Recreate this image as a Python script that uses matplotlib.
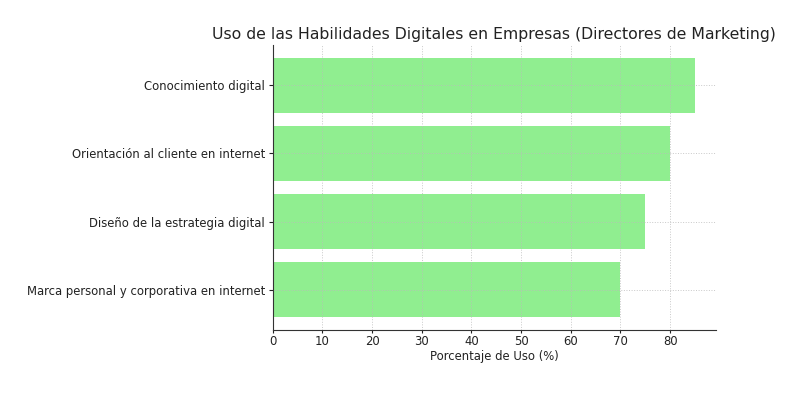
import matplotlib.pyplot as plt

# datos (de abajo hacia arriba)
habilidades = [
    'Marca personal y corporativa en internet',
    'Diseño de la estrategia digital',
    'Orientación al cliente en internet',
    'Conocimiento digital',
]
porcentajes = [70, 75, 80, 85]

plt.rcParams['font.family'] = 'DejaVu Sans'

fig = plt.figure(figsize=(8, 4), dpi=100)
ax = fig.add_axes([0.341, 0.175, 0.554, 0.7125])

ax.barh(habilidades, porcentajes, color='lightgreen', height=0.8)

ax.set_title('Uso de las Habilidades Digitales en Empresas (Directores de Marketing)',
             fontsize=11.3, color='#222222', pad=4)
ax.set_xlabel('Porcentaje de Uso (%)', fontsize=8.4, color='#222222', labelpad=1.5)
ax.tick_params(labelsize=8.4, width=0.8, colors='#222222')
ax.tick_params(axis='x', length=2, pad=1.5)
ax.tick_params(axis='y', length=3, pad=2.5)
ax.set_xticks(range(0, 90, 10))

ax.grid(True, linestyle=':', color='#bbbbbb', linewidth=0.7, alpha=0.8)
ax.spines['top'].set_visible(False)
ax.spines['right'].set_visible(False)
ax.spines['left'].set_color('#333333')
ax.spines['bottom'].set_color('#333333')

fig.savefig('out.png', dpi=100)
